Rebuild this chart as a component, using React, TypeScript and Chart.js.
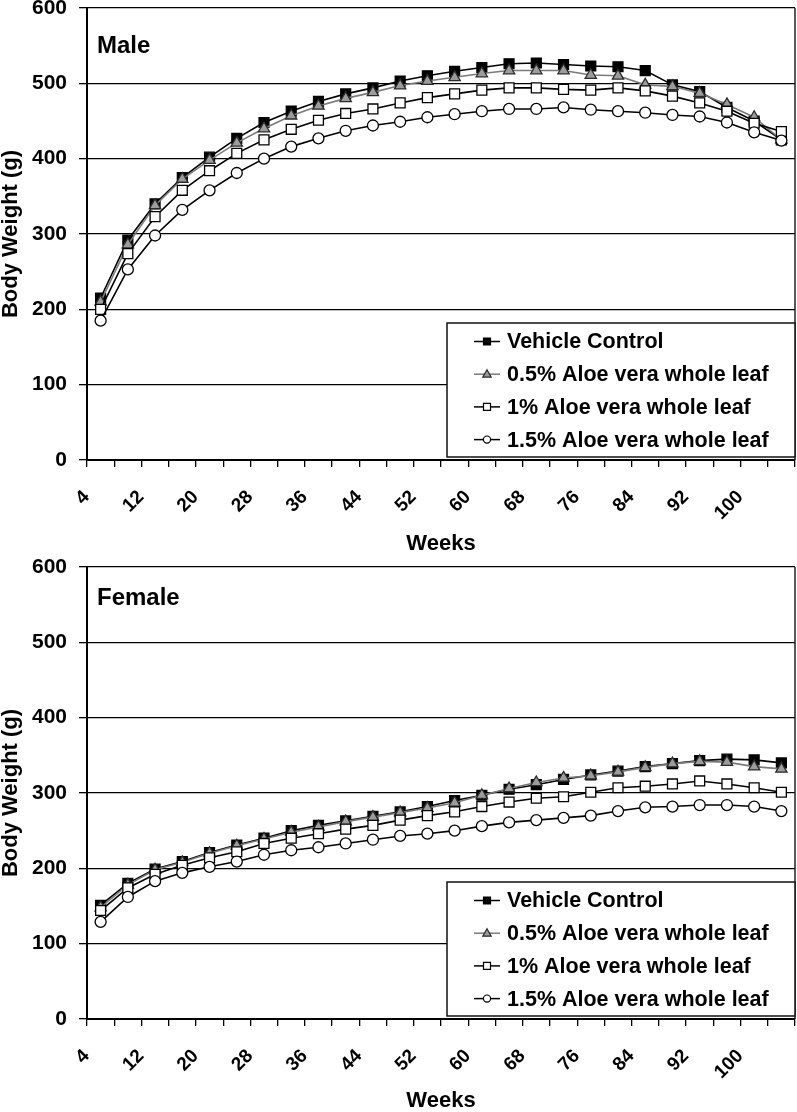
import React, { useEffect, useRef } from 'react';
import { Chart, registerables } from 'chart.js';

Chart.register(...registerables);

// ---------- data ----------
const weeks = ['4', '8', '12', '16', '20', '24', '28', '32', '36', '40', '44', '48', '52', '56', '60', '64', '68', '72', '76', '80', '84', '88', '92', '96', '100', '104'];

const seriesNames = [
  'Vehicle Control',
  '0.5% Aloe vera whole leaf',
  '1% Aloe vera whole leaf',
  '1.5% Aloe vera whole leaf',
];

const maleVehicle = [215, 292, 340, 375, 402, 427, 448, 463, 476, 486, 494, 503, 510, 516, 521, 526, 527, 525, 523, 522, 517, 498, 489, 468, 450, 425];
const maleHalf = [210, 286, 338, 373, 398, 421, 440, 457, 470, 480, 488, 497, 503, 508, 513, 517, 517, 517, 511, 510, 498, 496, 487, 472, 455, 425];
const maleOne = [200, 274, 323, 358, 384, 407, 425, 439, 451, 460, 466, 474, 481, 486, 491, 494, 494, 492, 491, 494, 490, 483, 474, 463, 447, 436];
const maleOneHalf = [185, 253, 298, 332, 358, 381, 400, 416, 427, 437, 444, 449, 455, 459, 463, 466, 466, 468, 465, 463, 461, 458, 456, 448, 435, 424];

const femaleVehicle = [151, 180, 199, 209, 221, 231, 240, 250, 257, 263, 269, 275, 282, 290, 297, 305, 311, 318, 324, 329, 335, 339, 343, 345, 344, 340];
const femaleHalf = [148, 178, 198, 208, 220, 230, 239, 248, 255, 262, 268, 274, 280, 287, 297, 306, 314, 320, 323, 328, 334, 339, 342, 341, 335, 332];
const femaleOne = [144, 174, 192, 204, 214, 222, 233, 240, 246, 252, 257, 264, 270, 275, 282, 288, 293, 295, 301, 307, 309, 312, 316, 312, 307, 301];
const femaleOneHalf = [129, 162, 183, 194, 202, 209, 218, 224, 228, 233, 238, 243, 246, 250, 256, 261, 264, 267, 270, 276, 281, 282, 284, 284, 282, 276];

const yMin = 0;
const yMax = 600;
const yStep = 100;

// ---------- styles ----------
const FONT = '"Liberation Sans", Arial, Helvetica, sans-serif';

const seriesStyles = [
  { pointStyle: 'rect', radius: 7, fill: '#000000', stroke: '#000000', line: '#000000' },
  { pointStyle: 'triangle', radius: 6.5, fill: '#9c9c9c', stroke: '#2a2a2a', line: '#7a7a7a' },
  { pointStyle: 'rect', radius: 7, fill: '#ffffff', stroke: '#000000', line: '#000000' },
  { pointStyle: 'circle', radius: 5.5, fill: '#ffffff', stroke: '#000000', line: '#000000' },
];

function drawLegendMarker(ctx: CanvasRenderingContext2D, kind: string, x: number, y: number, fill: string, stroke: string) {
  ctx.beginPath();
  if (kind === 'rect') {
    ctx.rect(x - 3.5, y - 3.5, 7, 7);
  } else if (kind === 'triangle') {
    ctx.moveTo(x, y - 4.5);
    ctx.lineTo(x + 4.2, y + 3);
    ctx.lineTo(x - 4.2, y + 3);
    ctx.closePath();
  } else {
    ctx.arc(x, y, 3.6, 0, Math.PI * 2);
  }
  ctx.fillStyle = fill;
  ctx.fill();
  ctx.strokeStyle = stroke;
  ctx.lineWidth = 1.2;
  ctx.stroke();
}

const decorPlugin = {
  id: 'panelDecor',
  afterDraw(chart: any, _args: any, opts: any) {
    const { ctx, chartArea: ca } = chart;
    ctx.save();
    // right border of plot area
    ctx.strokeStyle = '#222';
    ctx.lineWidth = 1.5;
    ctx.beginPath();
    ctx.moveTo(ca.right, ca.top);
    ctx.lineTo(ca.right, ca.bottom);
    ctx.stroke();

    // panel label
    ctx.fillStyle = '#000';
    ctx.font = `bold 24px ${FONT}`;
    ctx.textAlign = 'left';
    ctx.textBaseline = 'alphabetic';
    ctx.fillText(opts.label, ca.left + 10, ca.top + opts.labelOffset);

    // legend box
    const w = 348;
    const h = 134;
    const bx = ca.right - w;
    const by = ca.bottom - 3 - h;
    ctx.fillStyle = '#fff';
    ctx.fillRect(bx, by, w, h);
    ctx.strokeStyle = '#111';
    ctx.lineWidth = 1.5;
    ctx.strokeRect(bx, by, w, h);

    chart.data.datasets.forEach((ds: any, i: number) => {
      const st = seriesStyles[i];
      const cy = by + 18.5 + i * 32.7;
      ctx.strokeStyle = st.line;
      ctx.lineWidth = 1.5;
      ctx.beginPath();
      ctx.moveTo(bx + 27, cy);
      ctx.lineTo(bx + 53, cy);
      ctx.stroke();
      drawLegendMarker(ctx, st.pointStyle, bx + 40, cy, st.fill, st.stroke);
      ctx.fillStyle = '#000';
      ctx.font = `bold 21.5px ${FONT}`;
      ctx.textBaseline = 'middle';
      ctx.fillText(ds.label, bx + 60, cy + 1);
    });
    ctx.restore();
  },
};

function makeConfig(series: number[][], label: string, labelOffset: number, padTop: number, axisH: number, titlePadBottom: number): any {
  return {
    type: 'line',
    data: {
      labels: weeks,
      datasets: series.map((d, i) => {
        const st = seriesStyles[i];
        return {
          label: seriesNames[i],
          data: d,
          borderColor: st.line,
          borderWidth: 1.6,
          pointStyle: st.pointStyle,
          pointRadius: st.radius,
          pointBackgroundColor: st.fill,
          pointBorderColor: st.stroke,
          pointBorderWidth: 1.3,
          tension: 0,
          fill: false,
          order: 3 - i,
        };
      }),
    },
    options: {
      animation: false,
      responsive: false,
      maintainAspectRatio: false,
      events: [],
      layout: { padding: { top: padTop, left: 0, right: 2, bottom: 0 }, autoPadding: false },
      plugins: {
        legend: { display: false },
        tooltip: { enabled: false },
        panelDecor: { label, labelOffset },
      },
      scales: {
        x: {
          type: 'category',
          offset: true,
          grid: {
            display: true,
            drawOnChartArea: false,
            drawTicks: true,
            tickLength: 7,
            offset: true,
            color: '#000',
            lineWidth: 1.3,
          },
          border: { display: true, color: '#000', width: 2 },
          ticks: {
            autoSkip: false,
            maxRotation: 45,
            minRotation: 45,
            color: '#000',
            padding: 19,
            labelOffset: -14,
            font: { family: FONT, size: 19, weight: 'bold' },
            callback: (_v: any, i: number) => (i % 2 === 0 ? weeks[i] : ''),
          },
          title: {
            display: true,
            text: 'Weeks',
            color: '#000',
            font: { family: FONT, size: 22, weight: 'bold', lineHeight: 1 },
            padding: { top: 0, bottom: titlePadBottom },
          },
          afterFit: (s: any) => {
            s.height = axisH;
            s.paddingLeft = 0;
            s.paddingRight = 0;
          },
        },
        y: {
          min: yMin,
          max: yMax,
          ticks: {
            stepSize: yStep,
            color: '#000',
            padding: 12,
            font: { family: FONT, size: 21, weight: 'bold' },
          },
          grid: { color: '#000', lineWidth: 1.3, tickLength: 8 },
          border: { display: true, color: '#000', width: 2 },
          title: {
            display: true,
            text: 'Body Weight (g)',
            color: '#000',
            font: { family: FONT, size: 22, weight: 'bold', lineHeight: 1 },
            padding: 0,
          },
          afterFit: (s: any) => {
            s.width = 87;
            s.paddingTop = 0;
            s.paddingBottom = 0;
          },
        },
      },
    },
    plugins: [decorPlugin],
  };
}

function Panel(props: { series: number[][]; label: string; labelOffset: number; padTop: number; axisH: number; titlePadBottom: number }) {
  const ref = useRef<HTMLCanvasElement | null>(null);
  useEffect(() => {
    if (!ref.current) return;
    const chart = new Chart(ref.current, makeConfig(props.series, props.label, props.labelOffset, props.padTop, props.axisH, props.titlePadBottom));
    return () => chart.destroy();
  }, []);
  return <canvas ref={ref} width={797} height={556} style={{ display: 'block', width: 797, height: 556 }} />;
}

export default function App() {
  useEffect(() => {
    document.body.style.margin = '0';
    document.body.style.background = '#fff';
  }, []);
  return (
    <div style={{ width: 797, background: '#fff' }}>
      <Panel series={[maleVehicle, maleHalf, maleOne, maleOneHalf]} label="Male" labelOffset={45} padTop={8} axisH={96} titlePadBottom={1} />
      <Panel series={[femaleVehicle, femaleHalf, femaleOne, femaleOneHalf]} label="Female" labelOffset={38} padTop={11} axisH={93} titlePadBottom={0} />
    </div>
  );
}
